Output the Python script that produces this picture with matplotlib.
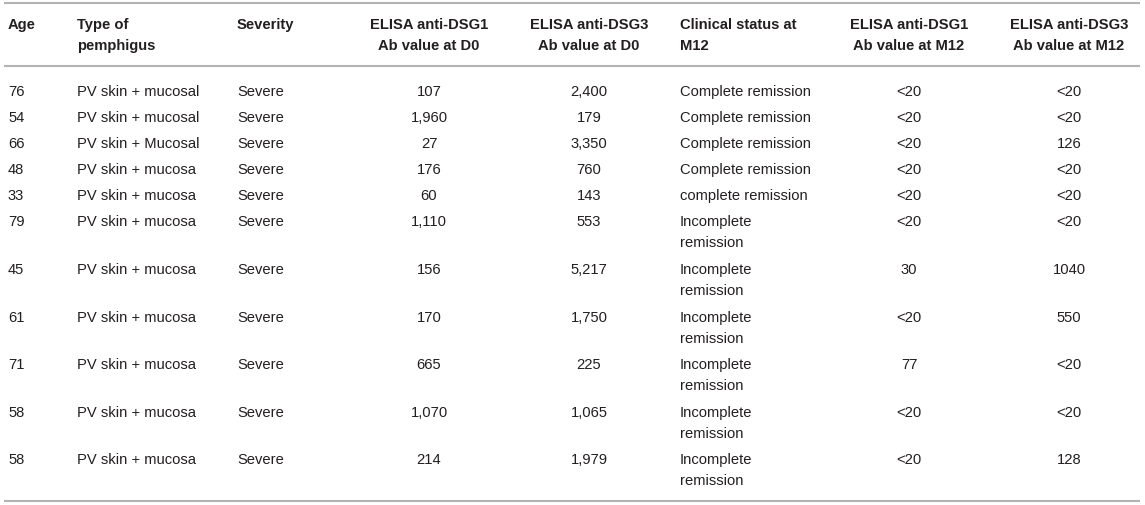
import matplotlib
matplotlib.use("Agg")
import matplotlib.pyplot as plt

plt.rcParams['font.family'] = ['Liberation Sans', 'DejaVu Sans']

headers = ["Age", "Type of\npemphigus", "Severity", "ELISA anti-DSG1\nAb value at D0",
           "ELISA anti-DSG3\nAb value at D0", "Clinical status at\nM12",
           "ELISA anti-DSG1\nAb value at M12", "ELISA anti-DSG3\nAb value at M12"]

age = ["76", "54", "66", "48", "33", "79", "45", "61", "71", "58", "58"]
ptype = ["PV skin + mucosal", "PV skin + mucosal", "PV skin + Mucosal", "PV skin + mucosa",
         "PV skin + mucosa", "PV skin + mucosa", "PV skin + mucosa", "PV skin + mucosa",
         "PV skin + mucosa", "PV skin + mucosa", "PV skin + mucosa"]
severity = ["Severe"] * 11
dsg1_d0 = ["107", "1,960", "27", "176", "60", "1,110", "156", "170", "665", "1,070", "214"]
dsg3_d0 = ["2,400", "179", "3,350", "760", "143", "553", "5,217", "1,750", "225", "1,065", "1,979"]
status = ["Complete remission", "Complete remission", "Complete remission", "Complete remission",
          "complete remission", "Incomplete\nremission", "Incomplete\nremission",
          "Incomplete\nremission", "Incomplete\nremission", "Incomplete\nremission",
          "Incomplete\nremission"]
dsg1_m12 = ["<20", "<20", "<20", "<20", "<20", "<20", "30", "<20", "77", "<20", "<20"]
dsg3_m12 = ["<20", "<20", "126", "<20", "<20", "<20", "1040", "550", "<20", "<20", "128"]

columns = [age, ptype, severity, dsg1_d0, dsg3_d0, status, dsg1_m12, dsg3_m12]

W, H = 1145, 506
fig = plt.figure(figsize=(W / 100, H / 100), dpi=100)
ax = fig.add_axes([0, 0, 1, 1])
ax.set_xlim(0, W)
ax.set_ylim(H, 0)
ax.axis('off')

col_x = [8, 77, 237, 429, 589, 680, 909, 1069]
col_ha = ['left', 'left', 'left', 'center', 'center', 'left', 'center', 'center']

fs_px = 14.8
fs = fs_px * 72 / 100
line_gap = 21
cap_half = 0.36 * fs_px
text_col = '#231f20'
rule_col = '#b3b3b3'


def draw_cell(x, y, s, ha, bold=False):
    for k, line in enumerate(s.split('\n')):
        ax.text(x, y + k * line_gap + cap_half, line, ha=ha, va='baseline',
                fontsize=fs, color=text_col,
                fontweight='bold' if bold else 'normal')


# rules
for yy in (4, 67, 502):
    ax.plot([4, 1140], [yy, yy], color=rule_col, lw=1.5, solid_capstyle='butt')

# header
for j, h in enumerate(headers):
    draw_cell(col_x[j], 24, h, col_ha[j], bold=True)

# body rows
y = 91
for i in range(len(age)):
    nlines = max(len(col[i].split('\n')) for col in columns)
    for j, col in enumerate(columns):
        draw_cell(col_x[j], y, col[i], col_ha[j])
    y += 26 if nlines == 1 else 47.6

fig.savefig('out.png', dpi=100)
